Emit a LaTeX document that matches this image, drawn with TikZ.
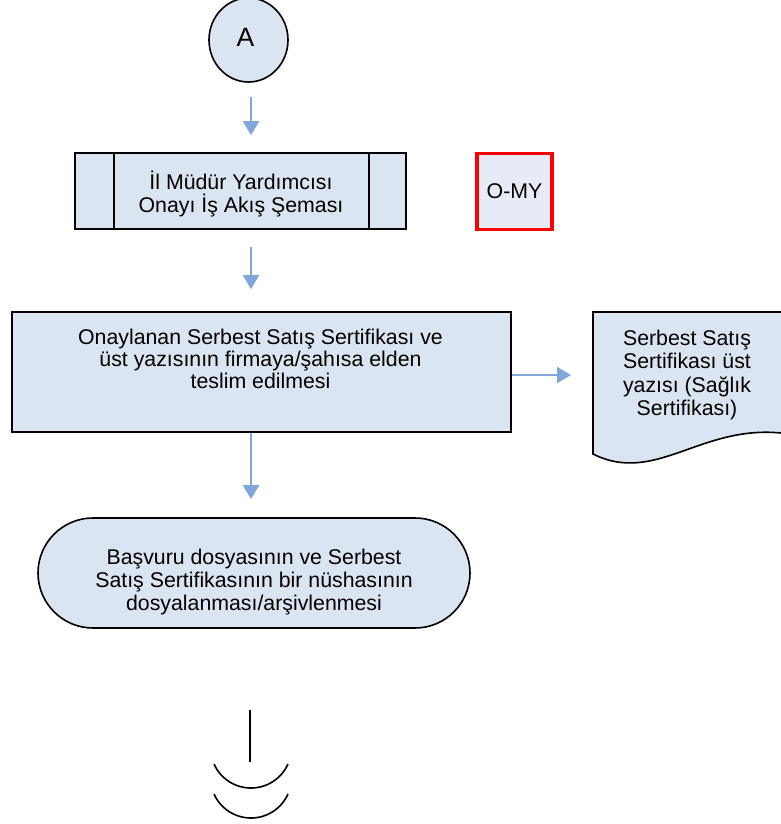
\documentclass[tikz,border=0pt]{standalone}
\usepackage{fontspec}
\setmainfont{Liberation Sans}
\usetikzlibrary{arrows.meta,shapes.geometric,calc}
\definecolor{boxfill}{RGB}{219,229,241}
\definecolor{omyfill}{RGB}{231,235,246}
\definecolor{arrowblue}{RGB}{128,166,220}
\tikzset{
  shapeline/.style={draw=black, line width=1.6pt, fill=boxfill},
  txt/.style={align=center, inner sep=0pt, font=\fontsize{21.3}{23.2}\selectfont},
  flow/.style={draw=arrowblue, line width=2pt, -{Triangle[width=16pt,length=14pt]}},
  plain/.style={draw=black, line width=1.6pt}
}
\begin{document}
\begin{tikzpicture}[x=1pt,y=-1pt]
\clip (0,0) rectangle (781,824);
\fill[white] (0,0) rectangle (781,824);

% connector A
\node[shapeline, ellipse, minimum width=79pt, minimum height=84pt, inner sep=0pt] (A) at (248.5,40) {};
\node[inner sep=0pt, font=\fontsize{26.5}{28}\selectfont] (Atxt) at (245.5,37) {A};

% predefined process
\node[shapeline, rectangle, minimum width=331pt, minimum height=76pt, inner sep=0pt] (pre) at (240.5,191) {};
\draw[plain] ($(pre.north west)+(40,0)$) -- ($(pre.south west)+(40,0)$);
\draw[plain] ($(pre.north east)+(-38,0)$) -- ($(pre.south east)+(-38,0)$);
\node[txt] (pretxt) at (241,194) {İl Müdür Yardımcısı\\Onayı İş Akış Şeması};

% O-MY
\node[draw=red, line width=3.2pt, fill=omyfill, minimum width=75pt, minimum height=76pt, inner sep=0pt,
      font=\fontsize{21.3}{22}\selectfont] (omy) at (514.5,191.5) {O-MY};

% process box
\node[shapeline, rectangle, minimum width=499pt, minimum height=120pt, inner sep=0pt] (box) at (261.5,372) {};
\node[txt, font=\fontsize{21.3}{22.3}\selectfont] (boxtxt) at (260.5,359) {Onaylanan Serbest Satış Sertifikası ve\\üst yazısının firmaya/şahısa elden\\teslim edilmesi};

% document
\draw[shapeline] (593,312) -- (800,312) -- (800,431) -- (781,433)
   .. controls (700,425) and (655,485) .. (593,454) -- cycle;
\coordinate (doc) at (593,375);
\node[txt] (doctxt) at (687,375) {Serbest Satış\\Sertifikası üst\\yazısı (Sağlık\\Sertifikası)};

% terminator
\node[shapeline, rectangle, rounded corners=55pt, minimum width=432pt, minimum height=110pt, inner sep=0pt] (term) at (254,573) {};
\node[txt] (termtxt) at (254,582) {Başvuru dosyasının ve Serbest\\Satış Sertifikasının bir nüshasının\\dosyalanması/arşivlenmesi};

% arrows
\draw[flow, shorten <=14pt, shorten >=17pt] (A.south -| 251,0) -- (pre.north -| 251,0);
\draw[flow, shorten <=17pt, shorten >=22pt] (pre.south -| 251,0) -- (box.north -| 251,0);
\draw[flow, shorten >=18pt] (box.south -| 251,0) -- (term.north -| 251,0);
\draw[flow, shorten >=22pt] (box.east |- doc) -- (doc);

% off-page continuation
\coordinate (lt) at (250,710);
\coordinate (lb) at (250,762);
\draw[plain] (lt) -- (lb);
\draw[plain] (214,764) arc[start angle=156, end angle=24, radius=40.5];
\draw[plain] (214,794) arc[start angle=156, end angle=24, radius=40.5];
\end{tikzpicture}
\end{document}
